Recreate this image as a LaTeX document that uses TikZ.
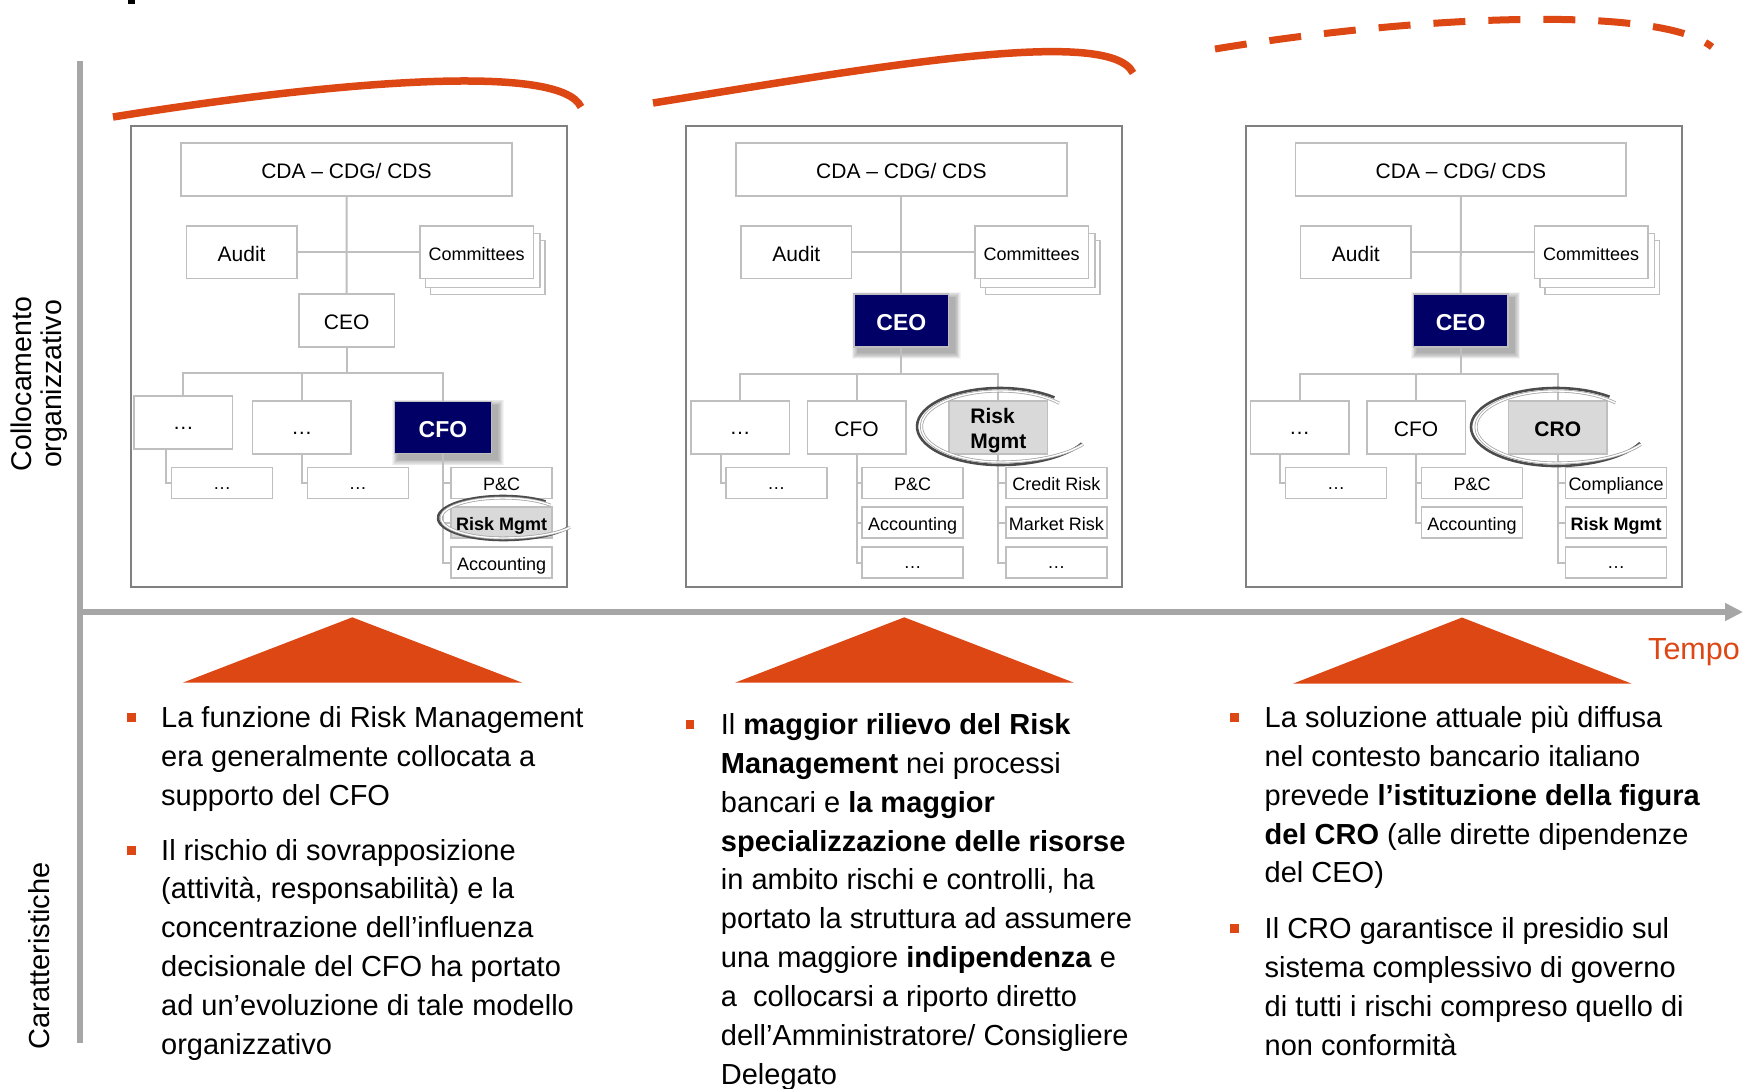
\documentclass[tikz,border=0pt]{standalone}
\usepackage{fontspec}
\setmainfont{Liberation Sans}
\usetikzlibrary{arrows.meta}
\definecolor{orng}{RGB}{221,71,19}
\definecolor{navy}{RGB}{0,0,102}
\definecolor{boxgray}{RGB}{191,191,191}
\definecolor{framegray}{RGB}{128,128,128}
\definecolor{axisgray}{RGB}{166,166,166}
\definecolor{rmfill}{RGB}{217,217,217}
\pgfdeclarelayer{background}
\pgfsetlayers{background,main}
\newcommand{\fs}[2]{\fontsize{#1}{#2}\selectfont}
\newcommand{\navyshadow}[1]{%
 \begin{pgfonlayer}{background}
 \foreach \s in {1,...,8}{%
  \fill[black,opacity=0.045] ([shift={(5-\s*0.8,5-\s*0.8)}]#1.north west) rectangle ([shift={(5+\s*0.8,5+\s*0.8)}]#1.south east);
 }
 \end{pgfonlayer}}
\newcommand{\stackback}[1]{%
 \begin{pgfonlayer}{background}
 \draw[draw=boxgray,line width=1.5pt,fill=white] ([shift={(11,15)}]#1.north west) rectangle ([shift={(11,15)}]#1.south east);
 \draw[draw=boxgray,line width=1.5pt,fill=white] ([shift={(6,8)}]#1.north west) rectangle ([shift={(6,8)}]#1.south east);
 \end{pgfonlayer}}
\begin{document}
\begin{tikzpicture}[x=1pt,y=-1pt,
 orgbox/.style={draw=boxgray, line width=1.5pt, fill=white, inner sep=0pt, minimum width=98.5pt, minimum height=53pt, font={\fs{21}{25}}, text height=18pt, text depth=0pt},
 cdabox/.style={orgbox, minimum width=331pt},
 audbox/.style={orgbox, minimum width=110.7pt, minimum height=52.7pt},
 combox/.style={orgbox, minimum width=113.3pt, minimum height=52.7pt, font={\fs{18}{21}}, text height=17pt},
 sbox/.style={draw=boxgray, line width=1.5pt, fill=white, inner sep=0pt, minimum width=101pt, minimum height=31pt, font={\fs{18}{21}}, text height=15pt, text depth=0pt},
 bdots/.style={text height=14.5pt},
 sdots/.style={text height=12pt},
 navybox/.style={orgbox, fill=navy, text=white, minimum width=95.3pt, minimum height=53pt, font={\bfseries\fs{23}{27}}, text height=20.5pt},
 rmbox/.style={orgbox, fill=rmfill, font={\bfseries\fs{21}{25}}},
 conn/.style={draw=boxgray, line width=2pt},
 panelframe/.style={draw=framegray, line width=2pt},
 swdark/.style={draw=black!70, line width=2.6pt},
 swlight/.style={draw=black!35, double=white, double distance=1.4pt, line width=0.8pt},
 bul/.style={fill=orng, minimum size=8.5pt, inner sep=0pt},
 btext/.style={anchor=base west, inner sep=0pt},
 arcline/.style={draw=orng, line width=7.5pt}
]
\begin{pgfonlayer}{background}
\fill[white] (0,0) rectangle (1744,1088);
\end{pgfonlayer}
\useasboundingbox (0,0) rectangle (1744,1088);

% fragment at top
\fill[black] (128,0) rectangle (134.5,4);

% orange arcs
\draw[arcline] (113,117) .. controls (330,82) and (560,62) .. (581,107);
\draw[arcline] (653,103) .. controls (870,68) and (1110,25) .. (1133,73);
\draw[arcline, line width=7pt, dash pattern=on 32pt off 23pt] (1215,49) .. controls (1420,15) and (1660,5) .. (1712,47);

% axes
\draw[axisgray, line width=5.5pt] (80,61) -- (80,1043);
\draw[axisgray, line width=5.5pt, -{Triangle[length=18pt,width=17pt]}] (80,612) -- (1743,612);

% panel frames
\draw[panelframe] (131,125.7) rectangle (567,586.7);
\draw[panelframe] (685.7,125.7) rectangle (1122.3,586.7);
\draw[panelframe] (1245.7,125.7) rectangle (1681.7,586.7);

% ---------- panel 1 ----------
\node[cdabox] (cda1) at (346.5,169.35) {CDA – CDG/ CDS};
\node[audbox] (aud1) at (241.65,252.35) {Audit};
\node[combox] (com1) at (476.65,252.35) {Committees};
\node[orgbox, minimum width=95.3pt] (ceo1) at (346.65,320.35) {CEO};
\node[orgbox, bdots] (d11) at (183.3,422.5) {…};
\node[orgbox, bdots] (d12) at (301.85,427.5) {…};
\node[navybox, minimum width=97.4pt, minimum height=51.6pt] (cfo1) at (443,427.5) {CFO};
\node[sbox, sdots] (s11) at (222,483) {…};
\node[sbox, sdots] (s12) at (357.8,483) {…};
\node[sbox] (pc1) at (501.65,483) {P\&C};
\node[sbox, fill=rmfill, font={\bfseries\fs{18}{21}}] (rm1) at (501.65,522.5) {Risk Mgmt};
\node[sbox] (acc1) at (501.65,562.5) {Accounting};
\stackback{com1}
\navyshadow{cfo1}
\coordinate (b1) at (346.65,373);
\draw[conn] (cda1.south) -- (ceo1.north);
\draw[conn] (aud1.east) -- (com1.west);
\draw[conn] (ceo1.south) -- (b1);
\draw[conn] (d11.north) |- (b1) -| (cfo1.north);
\draw[conn] (d12.north) -- (d12.north |- b1);
\draw[conn] ([xshift=-17.6pt]d11.south) |- (s11.west);
\draw[conn] (d12.south) |- (s12.west);
\draw[conn] (cfo1.south) |- (acc1.west);
\draw[conn] (cfo1.south |- pc1.west) -- (pc1.west);
\draw[conn] (cfo1.south |- rm1.west) -- (rm1.west);
\draw[swdark] (503,518) ++(-49:65 and 22) arc[start angle=-49,end angle=-270,x radius=65,y radius=22] arc[start angle=-270,end angle=-334,x radius=72,y radius=22];
\draw[swlight] (503,518) ++(-40:62 and 20) arc[start angle=-40,end angle=-270,x radius=62,y radius=20] arc[start angle=-270,end angle=-332,x radius=76,y radius=20];

% ---------- panel 2 ----------
\node[cdabox] (cda2) at (901.35,169.35) {CDA – CDG/ CDS};
\node[audbox] (aud2) at (796.35,252.35) {Audit};
\node[combox] (com2) at (1031.65,252.35) {Committees};
\node[navybox, minimum width=94.7pt] (ceo2) at (901.35,320.35) {CEO};
\node[orgbox, bdots] (d21) at (740.15,427.5) {…};
\node[orgbox] (cfo2) at (856.65,427.5) {CFO};
\node[rmbox] (rm2) at (998.35,427.5) {};
\node[align=left, inner sep=0pt, font={\bfseries\fs{21}{25}}] (rm2t) at (998.35,431) {Risk\\Mgmt};
\node[sbox, sdots] (s21) at (776.35,483) {…};
\node[sbox] (pc2) at (912.65,483) {P\&C};
\node[sbox] (acc2) at (912.65,522.5) {Accounting};
\node[sbox, sdots] (dd2) at (912.65,562.5) {…};
\node[sbox] (cr2) at (1056.35,483) {Credit Risk};
\node[sbox] (mr2) at (1056.35,522.5) {Market Risk};
\node[sbox, sdots] (dr2) at (1056.35,562.5) {…};
\stackback{com2}
\navyshadow{ceo2}
\coordinate (b2) at (901.35,374);
\draw[conn] (cda2.south) -- (ceo2.north);
\draw[conn] (aud2.east) -- (com2.west);
\draw[conn] (ceo2.south) -- (b2);
\draw[conn] (d21.north) |- (b2) -| (rm2.north);
\draw[conn] (cfo2.north) -- (cfo2.north |- b2);
\draw[conn] ([xshift=-19.5pt]d21.south) |- (s21.west);
\draw[conn] (cfo2.south) |- (dd2.west);
\draw[conn] (cfo2.south |- pc2.west) -- (pc2.west);
\draw[conn] (cfo2.south |- acc2.west) -- (acc2.west);
\draw[conn] (rm2.south) |- (dr2.west);
\draw[conn] (rm2.south |- cr2.west) -- (cr2.west);
\draw[conn] (rm2.south |- mr2.west) -- (mr2.west);
\draw[swdark] (1000,426.5) ++(-49:83 and 38.5) arc[start angle=-49,end angle=-270,x radius=83,y radius=38.5] arc[start angle=-270,end angle=-334,x radius=91,y radius=38.5];
\draw[swlight] (1000,426.5) ++(-41:78.5 and 35.5) arc[start angle=-41,end angle=-270,x radius=78.5,y radius=35.5] arc[start angle=-270,end angle=-330,x radius=96,y radius=35.5];

% ---------- panel 3 ----------
\node[cdabox, minimum width=330.3pt] (cda3) at (1460.85,169.35) {CDA – CDG/ CDS};
\node[audbox] (aud3) at (1355.85,252.35) {Audit};
\node[combox] (com3) at (1591.2,252.35) {Committees};
\node[navybox, minimum width=94.7pt] (ceo3) at (1460.65,320.35) {CEO};
\node[orgbox, bdots] (d31) at (1299.5,427.5) {…};
\node[orgbox] (cfo3) at (1416,427.5) {CFO};
\node[rmbox] (cro3) at (1557.8,427.5) {CRO};
\node[sbox, sdots] (s31) at (1336,483) {…};
\node[sbox] (pc3) at (1472,483) {P\&C};
\node[sbox] (acc3) at (1472,522.5) {Accounting};
\node[sbox] (cp3) at (1616,483) {Compliance};
\node[sbox, font={\bfseries\fs{18}{21}}] (rg3) at (1616,522.5) {Risk Mgmt};
\node[sbox, sdots] (dd3) at (1616,562.5) {…};
\stackback{com3}
\navyshadow{ceo3}
\coordinate (b3) at (1460.65,374);
\draw[conn] (cda3.south) -- (ceo3.north);
\draw[conn] (aud3.east) -- (com3.west);
\draw[conn] (ceo3.south) -- (b3);
\draw[conn] (d31.north) |- (b3) -| (cro3.north);
\draw[conn] (cfo3.north) -- (cfo3.north |- b3);
\draw[conn] ([xshift=-19.5pt]d31.south) |- (s31.west);
\draw[conn] (cfo3.south) |- (acc3.west);
\draw[conn] (cfo3.south |- pc3.west) -- (pc3.west);
\draw[conn] (cro3.south) |- (dd3.west);
\draw[conn] (cro3.south |- cp3.west) -- (cp3.west);
\draw[conn] (cro3.south |- rg3.west) -- (rg3.west);
\draw[swdark] (1556,427) ++(-51:85 and 39) arc[start angle=-51,end angle=-270,x radius=85,y radius=39] arc[start angle=-270,end angle=-336,x radius=92,y radius=39];
\draw[swlight] (1556,427) ++(-42:80 and 36) arc[start angle=-42,end angle=-270,x radius=80,y radius=36] arc[start angle=-270,end angle=-331,x radius=97,y radius=36];

% triangles
\fill[orng] (352.3,617.3) -- (522.3,682.7) -- (182.7,682.7) -- cycle;
\fill[orng] (904.3,617.3) -- (1074,682.7) -- (735,682.7) -- cycle;
\fill[orng] (1462,617.5) -- (1631.3,683.5) -- (1293.4,683.5) -- cycle;

% labels
\node[rotate=90, align=center, font={\fs{28.5}{30}}] (lab1) at (39,384) {Collocamento\\organizzativo};
\node[rotate=90, font={\fs{29}{32}}] (lab2) at (39,956) {Caratteristiche};
\node[anchor=base west, inner sep=0pt, text=orng, font={\fs{30.5}{34}}] (tempo) at (1648,659.3) {Tempo};

% bullets
\node[bul] (q11) at (131.5,717.7) {};
\node[btext] (t11) at (161,727.3) {\parbox[t]{600pt}{\fs{29}{38.9}\raggedright La funzione di Risk Management\\era generalmente collocata a\\supporto del CFO}};
\node[bul] (q12) at (131.5,850.5) {};
\node[btext] (t12) at (161,860) {\parbox[t]{600pt}{\fs{29}{38.9}\raggedright Il rischio di sovrapposizione\\(attività, responsabilità) e la\\concentrazione dell’influenza\\decisionale del CFO ha portato\\ad un’evoluzione di tale modello\\organizzativo}};
\node[bul] (q21) at (690,724.7) {};
\node[btext] (t21) at (720.7,734.3) {\parbox[t]{600pt}{\fs{29}{38.9}\raggedright Il \textbf{maggior rilievo del Risk}\\\textbf{Management} nei processi\\bancari e \textbf{la maggior}\\\textbf{specializzazione delle risorse}\\in ambito rischi e controlli, ha\\portato la struttura ad assumere\\una maggiore \textbf{indipendenza} e\\a~~collocarsi a riporto diretto\\dell’Amministratore/ Consigliere\\Delegato}};
\node[bul] (q31) at (1234.7,717.7) {};
\node[btext] (t31) at (1264.5,727.3) {\parbox[t]{600pt}{\fs{29}{38.9}\raggedright La soluzione attuale più diffusa\\nel contesto bancario italiano\\prevede \textbf{l’istituzione della figura}\\\textbf{del CRO} (alle dirette dipendenze\\del CEO)}};
\node[bul] (q32) at (1234.7,928.7) {};
\node[btext] (t32) at (1264.5,938.3) {\parbox[t]{600pt}{\fs{29}{38.9}\raggedright Il CRO garantisce il presidio sul\\sistema complessivo di governo\\di tutti i rischi compreso quello di\\non conformità}};
\end{tikzpicture}
\end{document}
